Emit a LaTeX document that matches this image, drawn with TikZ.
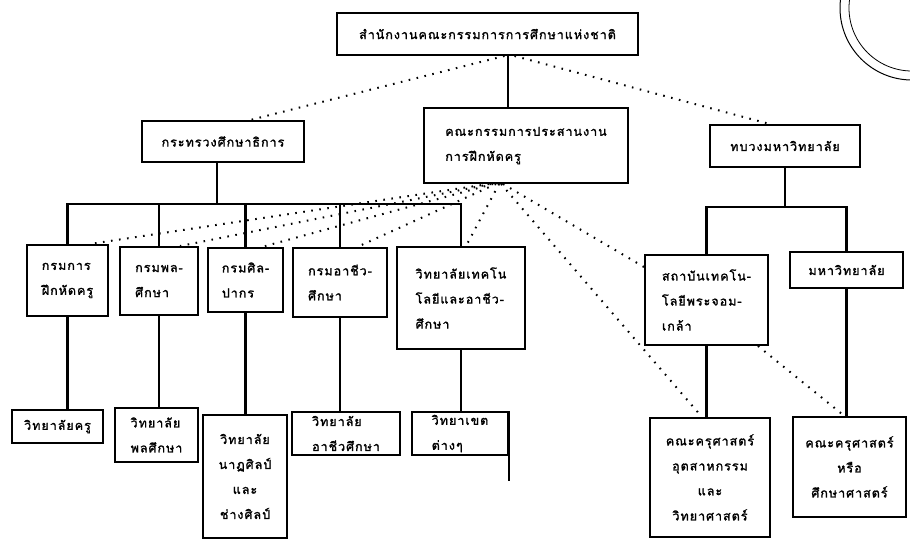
\documentclass[tikz,border=0pt]{standalone}
\usepackage{fontspec}
\newfontfamily\thaifont[Script=Thai,LetterSpace=8,FakeBold=1.6]{Loma}
\begin{document}
\begin{tikzpicture}[x=1pt,y=-1pt,
  box/.style={draw, line width=1.9pt, inner sep=0pt, align=left,
    font=\thaifont\fontsize{12.5}{25}\selectfont},
  link/.style={line width=2.1pt},
  dotline/.style={line width=2pt, dash pattern=on 1.6pt off 6.5pt}]
\useasboundingbox (0,0) rectangle (910,542);
% seal fragment
\begin{scope}
\clip (0,0) rectangle (910,542);
\draw[line width=1pt] (912,8) circle (72);
\draw[line width=0.8pt] (912,8) circle (63);
\end{scope}
% level 1 and 2
\node[box, minimum width=301pt, minimum height=42pt, align=center] (top) at (487.5,34) {สำนักงานคณะกรรมการการศึกษาแห่งชาติ};
\node[box, minimum width=162pt, minimum height=41pt] (moe) at (223,141.5) {กระทรวงศึกษาธิการ};
\node[box, minimum width=204pt, minimum height=75pt] (comm) at (526,145.5) {คณะกรรมการประสานงาน\\การฝึกหัดครู};
\node[box, minimum width=150pt, minimum height=42pt] (tub) at (785,146) {ทบวงมหาวิทยาลัย};
% level 3
\node[box, minimum width=81pt, minimum height=71pt] (d1) at (67.5,280.5) {กรมการ\\ฝึกหัดครู};
\node[box, minimum width=78pt, minimum height=68pt] (d2) at (159,281) {กรมพล-\\ศึกษา};
\node[box, minimum width=75pt, minimum height=64pt] (d3) at (245.5,280) {กรมศิล-\\ปากร};
\node[box, minimum width=94pt, minimum height=69pt] (d4) at (340,282.5) {กรมอาชีว-\\ศึกษา};
\node[box, minimum width=128pt, minimum height=102pt] (d5) at (461,298) {วิทยาลัยเทคโน\\โลยีและอาชีว-\\ศึกษา};
\node[box, minimum width=123pt, minimum height=90pt] (d6) at (706.5,300) {สถาบันเทคโน-\\โลยีพระจอม-\\เกล้า};
\node[box, minimum width=113pt, minimum height=36pt] (d7) at (846.5,270) {มหาวิทยาลัย};
% level 4
\node[box, minimum width=91pt, minimum height=33pt] (b1) at (57.5,426.5) {วิทยาลัยครู};
\node[box, minimum width=83pt, minimum height=54pt] (b2) at (156.5,435) {วิทยาลัย\\พลศึกษา};
\node[box, minimum width=84pt, minimum height=123pt, align=center] (b3) at (245,476.5) {วิทยาลัย\\นาฏศิลป์\\และ\\ช่างศิลป์};
\node[box, minimum width=108pt, minimum height=43pt] (b4) at (346,433.5) {วิทยาลัย\\อาชีวศึกษา};
\node[box, minimum width=96pt, minimum height=43pt] (b5) at (460,433.5) {วิทยาเขต\\ต่างๆ};
\node[box, minimum width=120pt, minimum height=119pt, align=center] (b6) at (710,477.5) {คณะครุศาสตร์\\อุตสาหกรรม\\และ\\วิทยาศาสตร์};
\node[box, minimum width=113pt, minimum height=100pt, align=center] (b7) at (849.5,467) {คณะครุศาสตร์\\หรือ\\ศึกษาศาสตร์};
% junctions
\coordinate (j0) at (508,55);
\coordinate (jm) at (217,204);
\coordinate (jt) at (785,207);
% solid connectors
\draw[link] (j0) -- (j0 |- comm.north);
\draw[link] (moe.south -| jm) -- (jm);
\draw[link] (d1.north) |- (d5.north |- jm) -- (d5.north);
\draw[link] (d2.north |- jm) -- (d2.north);
\draw[link] (d3.north |- jm) -- (d3.north);
\draw[link] (d4.north |- jm) -- (d4.north);
\draw[link] (tub.south) -- (jt);
\draw[link] (d6.north) |- (jt) -| (d7.north);
\draw[link] (d1.south) -- (d1.south |- b1.north);
\draw[link] (d2.south) -- (d2.south |- b2.north);
\draw[link] (d3.south) -- (d3.south |- b3.north);
\draw[link] (d4.south) -- (d4.south |- b4.north);
\draw[link] (d5.south) -- (d5.south |- b5.north);
\draw[link] (d6.south) -- (d6.south |- b6.north);
\draw[link] (d7.south) -- (d7.south |- b7.north);
\draw[link] (b5.north east) -- ([yshift=-25pt]b5.south east);
% dotted connectors
\draw[dotline] ([xshift=17pt]top.south) -- ([xshift=27pt]moe.north);
\draw[dotline] ([xshift=27pt]top.south) -- ([xshift=-15pt]tub.north);
\draw[dotline] ([xshift=66pt]comm.south west) -- ([xshift=22pt]d1.north);
\draw[dotline] ([xshift=68pt]comm.south west) -- ([xshift=21pt]d2.north);
\draw[dotline] ([xshift=70pt]comm.south west) -- ([xshift=16pt]d3.north);
\draw[dotline] ([xshift=73pt]comm.south west) -- ([xshift=17pt]d4.north);
\draw[dotline] ([xshift=76pt]comm.south west) -- ([xshift=5pt]d5.north);
\draw[dotline] ([xshift=80pt]comm.south west) -- ([yshift=-13pt]d6.north west);
\draw[dotline] ([xshift=78pt]comm.south west) -- ([xshift=-8pt]b6.north);
\draw[dotline] ([xshift=-11pt]d6.south east) -- ([xshift=-5pt]b7.north);
\end{tikzpicture}
\end{document}
